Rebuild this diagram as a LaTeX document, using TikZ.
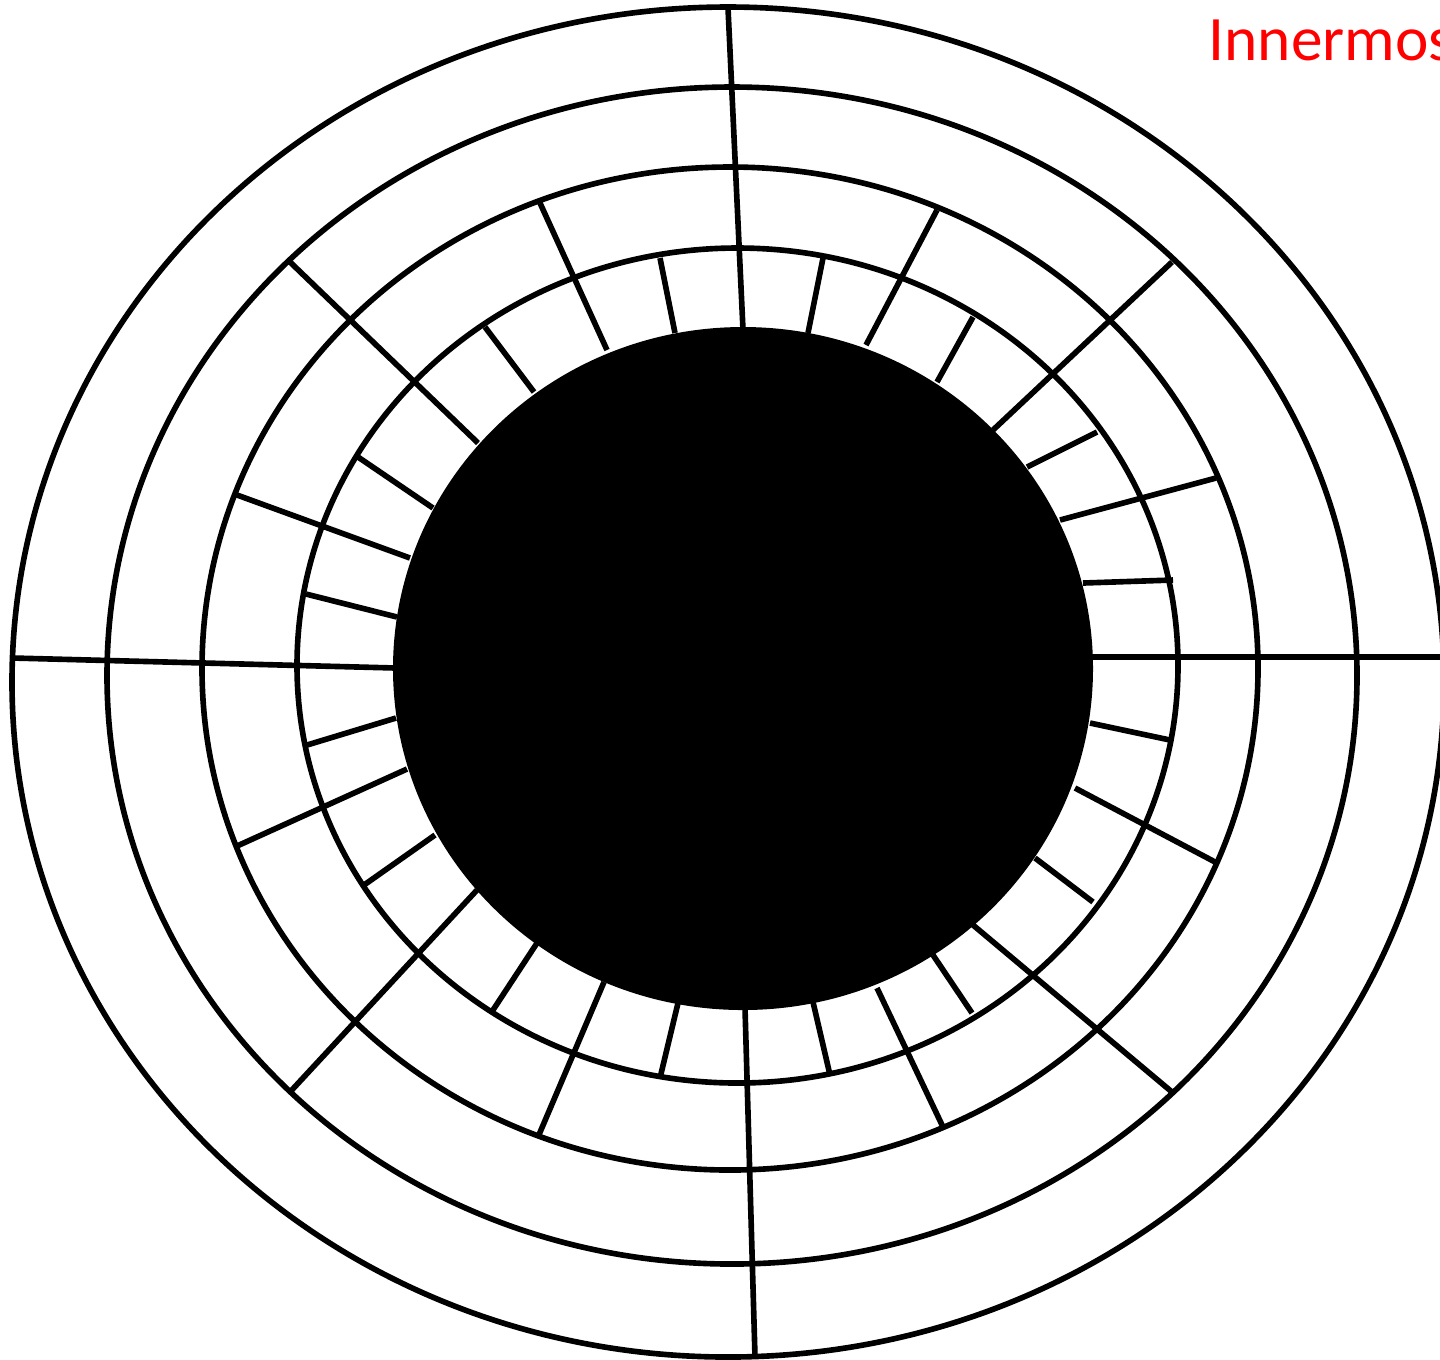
\documentclass[tikz,border=0pt]{standalone}
\usepackage{fontspec}
\usepackage{tikz}
\newfontfamily\notefont{Carlito}
\definecolor{NoteRed}{HTML}{FF0000}

\begin{document}
\begin{tikzpicture}[x=0.01cm,y=-0.01cm,
    ring/.style={draw=black,line width=1.6pt},
    spoke/.style={draw=black,line width=1.6pt}]
  \useasboundingbox (0,0) rectangle (1440,1359);
  % rings, inner to outer
  \foreach \cx/\cy/\rx/\ry in {737.5/665.5/440.5/417.5, 730/668.5/528/501.5,
                               732/675.5/625/588.5, 728/682/716/675}
    \draw[ring] (\cx,\cy) ellipse [x radius=\rx, y radius=\ry];
  % spokes core to outer ring
  \foreach \xa/\ya/\xb/\yb in {728/8/743/330, 755/1357/745/1008,
                               13/658/396/668, 1442/657/1090/657}
    \draw[spoke] (\xa,\ya)--(\xb,\yb);
  % diagonals core to third ring
  \foreach \xa/\ya/\xb/\yb in {290/262/478/443, 1172/262/993/430,
                               290/1092/477/890, 1172/1092/973/925}
    \draw[spoke] (\xa,\ya)--(\xb,\yb);
  % core to second ring
  \foreach \xa/\ya/\xb/\yb in {540/203/607/350, 937/210/866/345,
                               237/495/410/558, 1216/478/1060/520,
                               237/846/407/769, 1217/863/1075/788,
                               538/1137/604/982, 943/1127/877/988}
    \draw[spoke] (\xa,\ya)--(\xb,\yb);
  % core to first ring
  \foreach \xa/\ya/\xb/\yb in {660/258/675/333, 823/258/808/333,
                               485/327/534/392, 973/317/937/382,
                               358/457/433/508, 1097/432/1027/467,
                               306/594/397/617, 1173/580/1083/583,
                               307/745/396/718, 1170/740/1090/723,
                               364/885/435/835, 1093/902/1035/858,
                               493/1010/537/943, 972/1013/933/955,
                               660/1078/678/1003, 830/1075/813/1002}
    \draw[spoke] (\xa,\ya)--(\xb,\yb);
  % black core
  \fill[black] (743,668.5) ellipse [x radius=350, y radius=341.5];
  \node[anchor=base west,inner sep=0pt,text=NoteRed,font=\notefont\fontsize{18}{20}\selectfont]
    (note) at (1208,60) {Innermos};
\end{tikzpicture}
\end{document}
